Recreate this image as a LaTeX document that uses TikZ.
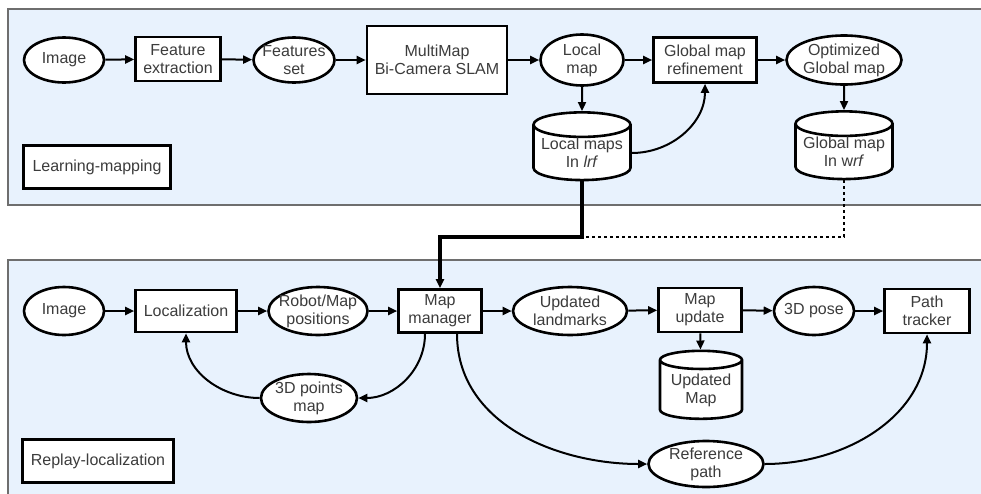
\documentclass[tikz,border=0pt]{standalone}
\usepackage{fontspec}
\setmainfont{Liberation Sans}
\usetikzlibrary{arrows.meta,shapes.geometric,positioning}
\definecolor{panelblue}{RGB}{232,242,253}
\definecolor{panelline}{RGB}{110,110,110}
\definecolor{textgray}{RGB}{60,60,60}

\begin{document}
\begin{tikzpicture}[x=1pt,y=1pt,>={Triangle[length=9pt,width=8pt]},
  base/.style={draw,line width=2.6pt,fill=white,align=center,text=textgray,
    font=\fontsize{16}{18}\selectfont},
  box/.style={base,inner sep=0pt},
  oval/.style={base,ellipse,inner xsep=-12pt,inner ysep=-10pt},
  drum/.style={base,cylinder,shape border rotate=90,aspect=0.3,inner sep=0pt},
  link/.style={line width=2pt,->},
  panel/.style={draw=panelline,line width=1.6pt,fill=panelblue}]
\useasboundingbox (0,0) rectangle (981,-493);
% panels
\draw[panel] (8,-9) rectangle (995,-205);
\draw[panel] (8,-260) rectangle (995,-505);

% learning-mapping
\node[oval,minimum width=80,minimum height=45] (img1) at (64,-60) {Image};
\node[box,minimum width=85,minimum height=44] (fext) at (178,-59) {Feature\\extraction};
\node[oval,minimum width=81,minimum height=45] (fset) at (294,-60) {Features\\set};
\node[box,minimum width=140,minimum height=68] (slam) at (437,-60) {MultiMap\\Bi-Camera SLAM};
\node[oval,minimum width=83,minimum height=51] (lmap) at (582,-60) {Local\\map};
\node[box,minimum width=103,minimum height=45] (gref) at (705,-60) {Global map\\refinement};
\node[oval,minimum width=115,minimum height=49] (ogm) at (844,-60) {Optimized\\Global map};
\node[drum,minimum width=97,minimum height=64] (lmaps) at (582,-153) {Local maps\\In \textit{lrf}};
\node[drum,minimum width=97,minimum height=65] (gmaps) at (844,-152) {Global map\\In w\textit{rf}};
\node[box,minimum width=147,minimum height=43] (lm) at (97,-167) {Learning-mapping};

\draw[link] (img1) -- (fext);
\draw[link] (fext) -- (fset);
\draw[link] (fset) -- (slam);
\draw[link] (slam) -- (lmap);
\draw[link] (lmap) -- (gref);
\draw[link] (gref) -- (ogm);
\draw[link] (lmap) -- (lmaps);
\draw[link] (ogm) -- (gmaps);
\draw[link] (lmaps.east) to[out=0,in=-90] (gref.south);

% replay-localization
\node[oval,minimum width=80,minimum height=48] (img2) at (64,-311) {Image};
\node[box,minimum width=101,minimum height=42] (loc) at (186,-311) {Localization};
\node[oval,minimum width=99,minimum height=48] (rmp) at (318,-311) {Robot/Map\\positions};
\node[box,minimum width=83,minimum height=43] (mm) at (440,-311) {Map\\manager};
\node[oval,minimum width=114,minimum height=48] (ulm) at (570,-311) {Updated\\landmarks};
\node[box,minimum width=83,minimum height=44] (mu) at (700,-310) {Map\\update};
\node[oval,minimum width=80,minimum height=48] (pose) at (814,-311) {3D pose};
\node[box,minimum width=85,minimum height=44] (pt) at (927,-311) {Path\\tracker};
\node[drum,minimum width=82,minimum height=68] (umap) at (701,-390) {Updated\\Map};
\node[oval,minimum width=96,minimum height=48] (pts) at (309,-398) {3D points\\map};
\node[oval,minimum width=115,minimum height=46] (refp) at (706,-464) {Reference\\path};
\node[box,minimum width=151,minimum height=43] (rl) at (98,-461) {Replay-localization};

\draw[link] (img2) -- (loc);
\draw[link] (loc) -- (rmp);
\draw[link] (rmp) -- (mm);
\draw[link] (mm) -- (ulm);
\draw[link] (ulm) -- (mu);
\draw[link] (mu) -- (pose);
\draw[link] (pose) -- (pt);
\draw[link] (mu) -- (umap);
\draw[link] ([xshift=-15pt]mm.south) to[out=-90,in=0] (pts.east);
\draw[link] (pts.west) to[out=180,in=-90] (loc.south);
\draw[link] ([xshift=17pt]mm.south) to[out=-90,in=180] (refp.west);
\draw[link] (refp.east) to[out=0,in=-90] (pt.south);

% link between the two stages
\coordinate (bend) at (0,-237);
\draw[line width=1.6pt,dashed] (gmaps.south) -- (gmaps.south|-bend) -- (lmaps.south|-bend);
\draw[line width=3.6pt,->] (lmaps.south) -- (lmaps.south|-bend) -- (mm.north|-bend) -- (mm.north);
\end{tikzpicture}
\end{document}
